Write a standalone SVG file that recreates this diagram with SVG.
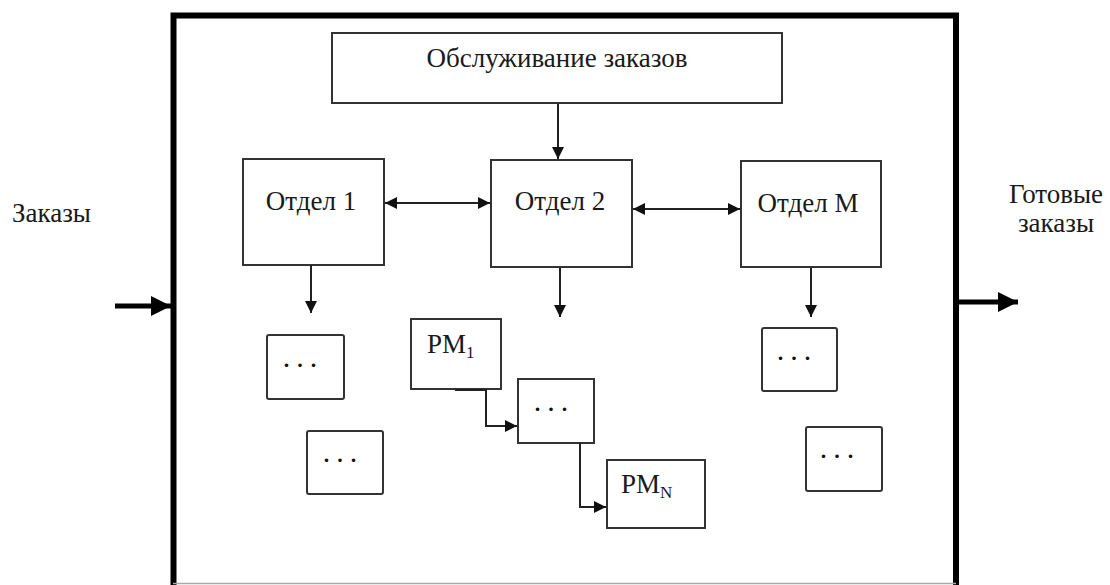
<svg xmlns="http://www.w3.org/2000/svg" width="1110" height="585" viewBox="0 0 1110 585">
  <defs>
    <style>
      .box { fill: #fff; stroke: #333; stroke-width: 2; }
      .lbl { font-family: "Liberation Serif", "Times New Roman", serif; font-size: 27px; fill: #1a1a1a; }
      .mid { text-anchor: middle; }
      .sub { font-size: 17px; }
      .dots { font-family: "Liberation Serif", serif; font-size: 30px; fill: #111; letter-spacing: 6px; }
      .wire { fill: none; stroke: #222; stroke-width: 2; }
      .thick { fill: none; stroke: #000; stroke-width: 5; }
    </style>
    <marker id="ah" viewBox="0 0 12 12" refX="12" refY="6" markerWidth="12" markerHeight="12" markerUnits="userSpaceOnUse" orient="auto-start-reverse">
      <path d="M0,0 L12,6 L0,12 Z" fill="#111"/>
    </marker>
    <marker id="big" viewBox="0 0 20 20" refX="20" refY="10" markerWidth="20" markerHeight="20" markerUnits="userSpaceOnUse" orient="auto">
      <path d="M0,0 L20,10 L0,20 Z" fill="#000"/>
    </marker>
  </defs>

  <!-- enterprise boundary -->
  <g id="frame">
    <path d="M173.5,588 V15.5 H956 V588" fill="none" stroke="#000" stroke-width="6"/>
    <line x1="173" y1="583.5" x2="956" y2="583.5" stroke="#aaa" stroke-width="1.5"/>
  </g>

  <!-- external labels -->
  <g id="input-label">
    <text class="lbl" x="12" y="222">Заказы</text>
  </g>
  <g id="output-label">
    <text class="lbl mid" x="1056" y="203" font-size="26">Готовые</text>
    <text class="lbl mid" x="1056" y="232" font-size="26">заказы</text>
  </g>

  <g id="order-service">
    <rect class="box" x="332" y="33" width="450" height="70"/>
    <text class="lbl mid" x="557" y="67" font-size="28">Обслуживание заказов</text>
  </g>

  <g id="dept-1">
    <rect class="box" x="243" y="159" width="141" height="106"/>
    <text class="lbl mid" x="311" y="210">Отдел 1</text>
  </g>
  <g id="dept-2">
    <rect class="box" x="491" y="160" width="141" height="107"/>
    <text class="lbl mid" x="560" y="210">Отдел 2</text>
  </g>
  <g id="dept-m">
    <rect class="box" x="741" y="161" width="140" height="106"/>
    <text class="lbl mid" x="808" y="212">Отдел М</text>
  </g>

  <g id="d1-ws-a">
    <rect class="box" x="267" y="335" width="77" height="64" rx="2"/>
    <text class="dots mid" x="303" y="367">...</text>
  </g>
  <g id="d1-ws-b">
    <rect class="box" x="307" y="431" width="76" height="63" rx="2"/>
    <text class="dots mid" x="343" y="462">...</text>
  </g>

  <g id="ws-1">
    <rect class="box" x="411" y="319" width="90" height="70"/>
    <text class="lbl" x="427" y="353">РМ<tspan class="sub" dy="5">1</tspan></text>
  </g>
  <g id="ws-mid">
    <rect class="box" x="518" y="379" width="76" height="64"/>
    <text class="dots mid" x="554" y="411">...</text>
  </g>
  <g id="ws-n">
    <rect class="box" x="607" y="460" width="98" height="68"/>
    <text class="lbl" x="621" y="493">РМ<tspan class="sub" dy="5">N</tspan></text>
  </g>

  <g id="dm-ws-a">
    <rect class="box" x="762" y="328" width="75" height="63" rx="2"/>
    <text class="dots mid" x="797" y="360">...</text>
  </g>
  <g id="dm-ws-b">
    <rect class="box" x="806" y="427" width="76" height="64" rx="2"/>
    <text class="dots mid" x="840" y="458">...</text>
  </g>

  <!-- connectors -->
  <g id="connectors">
    <line class="thick" x1="115" y1="306" x2="171" y2="306" marker-end="url(#big)"/>
    <line class="thick" x1="959" y1="302" x2="1018" y2="302" marker-end="url(#big)"/>

    <line class="wire" x1="558" y1="104" x2="558" y2="159" marker-end="url(#ah)"/>
    <line class="wire" x1="385" y1="203" x2="490" y2="203" marker-start="url(#ah)" marker-end="url(#ah)"/>
    <line class="wire" x1="633" y1="209" x2="740" y2="209" marker-start="url(#ah)" marker-end="url(#ah)"/>

    <line class="wire" x1="311" y1="265" x2="311" y2="313" marker-end="url(#ah)"/>
    <line class="wire" x1="560" y1="268" x2="560" y2="317" marker-end="url(#ah)"/>
    <line class="wire" x1="811" y1="268" x2="811" y2="317" marker-end="url(#ah)"/>

    <path class="wire" d="M455,390 H486 V426 H517" marker-end="url(#ah)"/>
    <path class="wire" d="M580,443 V507 H606" marker-end="url(#ah)"/>
  </g>
</svg>
